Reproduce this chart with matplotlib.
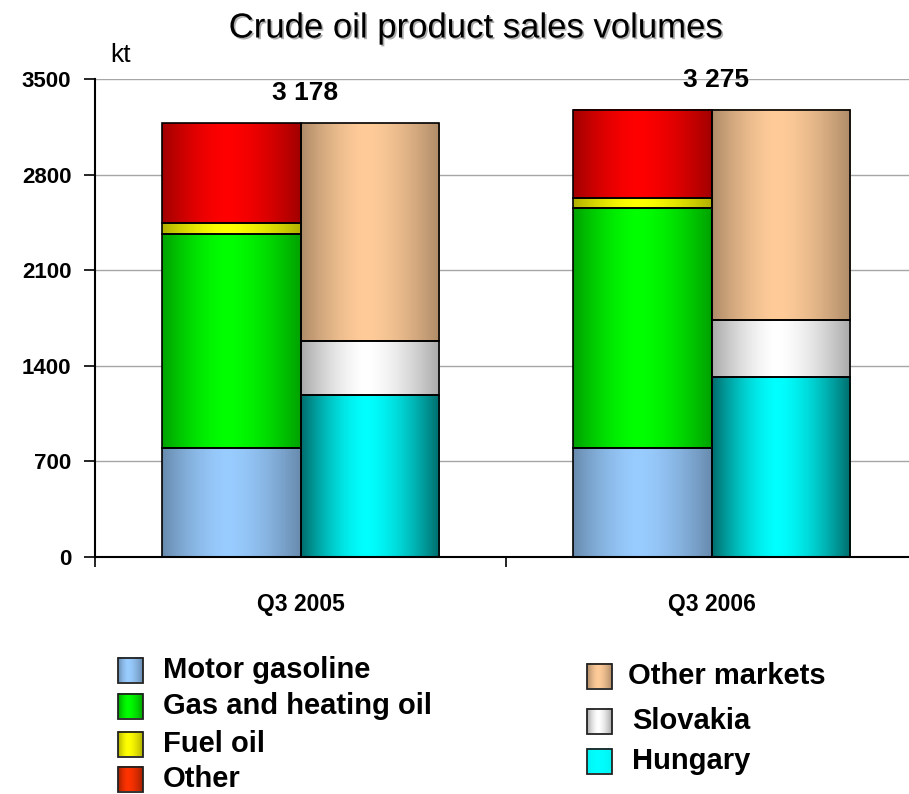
import matplotlib
matplotlib.use('Agg')
import matplotlib.pyplot as plt
import matplotlib.patheffects as pe
from matplotlib.colors import to_rgb
from matplotlib.patches import Rectangle
import numpy as np

plt.rcParams['font.family'] = ['Liberation Sans', 'DejaVu Sans']

categories = ['Q3 2005', 'Q3 2006']
totals = [3178, 3275]

# left bar: sales by product (kt)
motor_gasoline = [800, 800]
gas_heating_oil = [1567, 1752]
fuel_oil = [80, 74]
other_products = [731, 649]

# right bar: sales by market (kt)
hungary = [1186, 1318]
slovakia = [397, 415]
other_markets = [1595, 1542]

y_ticks = [0, 700, 1400, 2100, 2800, 3500]

# (name, values, base colour, edge darkening)
products = [
    ('Motor gasoline', motor_gasoline, '#99ccff', 0.68),
    ('Gas and heating oil', gas_heating_oil, '#00ff00', 0.63),
    ('Fuel oil', fuel_oil, '#ffff00', 0.69),
    ('Other', other_products, '#ff0000', 0.63),
]
markets = [
    ('Hungary', hungary, '#00ffff', 0.42),
    ('Slovakia', slovakia, '#ffffff', 0.66),
    ('Other markets', other_markets, '#ffcc99', 0.68),
]


def shade(color, lo, peak=0.47, n=256):
    # horizontal "cylinder" shading: dark edges, bright middle
    t = np.linspace(0, 1, n)
    d = np.where(t < peak, (peak - t) / peak, (t - peak) / (1 - peak))
    f = 1 - (1 - lo) * d ** 1.6
    rgb = np.array(to_rgb(color))
    return (f[:, None] * rgb)[None, :, :]


def shaded_bar(ax, x, bottom, height, width, color, lo):
    ax.imshow(shade(color, lo), extent=(x - width / 2, x + width / 2, bottom, bottom + height),
              aspect='auto', interpolation='bilinear', zorder=2)
    ax.bar(x, height, width, bottom=bottom, facecolor='none', edgecolor='black',
           linewidth=1.2, zorder=3)


fig = plt.figure(figsize=(9.09, 7.94), dpi=100)
ax = fig.add_axes([95 / 909, 1 - 557 / 794, 822 / 909, 478 / 794])

width = 0.336
for i in range(len(categories)):
    bottom = 0
    for name, vals, col, lo in products:
        shaded_bar(ax, i - width / 2, bottom, vals[i], width, col, lo)
        bottom += vals[i]
    bottom = 0
    for name, vals, col, lo in markets:
        shaded_bar(ax, i + width / 2, bottom, vals[i], width, col, lo)
        bottom += vals[i]
    ax.annotate(f'{totals[i]:,}'.replace(',', ' '), (i, totals[i]), xytext=(3, 13),
                textcoords='offset points', ha='center', va='bottom',
                fontsize=19, fontweight='bold')

ax.set_xlim(-0.5, 1.5)
ax.set_ylim(0, 3500)
ax.set_yticks(y_ticks, labels=[str(v) for v in y_ticks], fontsize=16, fontweight='bold')
ax.tick_params(axis='y', direction='out', length=8, width=1.2, pad=9)
ax.set_xticks([-0.5, 0.5, 1.5], labels=[])
ax.tick_params(axis='x', which='major', direction='out', length=7, width=1.2)
ax.set_xticks([0, 1], labels=categories, minor=True, fontsize=16.5, fontweight='bold')
ax.tick_params(axis='x', which='minor', length=0, pad=26)
ax.yaxis.grid(True, color='#a6a6a6', linewidth=1)
ax.set_axisbelow(True)
for s in ['top', 'right']:
    ax.spines[s].set_visible(False)
ax.spines['left'].set_linewidth(1.5)
ax.spines['bottom'].set_linewidth(1.5)

fig.text(476 / 909, 1 - 28 / 794, 'Crude oil product sales volumes', ha='center', va='center',
         fontsize=25, path_effects=[pe.withSimplePatchShadow(offset=(1.2, -1.2),
                                                            shadow_rgbFace='#777777', alpha=0.6)])
fig.text(121 / 909, 1 - 55 / 794, 'kt', ha='center', va='center', fontsize=19)

# legend drawn in pixel coordinates on an overlay axes
lax = fig.add_axes([0, 0, 1, 1])
lax.set_xlim(0, 909)
lax.set_ylim(794, 0)
lax.axis('off')

legend_left = [('Motor gasoline', '#99ccff', 0.68, 670),
               ('Gas and heating oil', '#00ff00', 0.63, 706),
               ('Fuel oil', '#ffff00', 0.69, 744),
               ('Other', '#ff3300', 0.63, 779)]
legend_right = [('Other markets', '#ffcc99', 0.68, 676, 628),
                ('Slovakia', '#ffffff', 0.66, 721, 632),
                ('Hungary', '#00ffff', 0.95, 761, 632)]

for name, col, lo, yc in legend_left:
    lax.imshow(shade(col, lo, peak=0.4), extent=(118, 143, yc + 12.5, yc - 12.5),
               aspect='auto', interpolation='bilinear', zorder=2)
    lax.add_patch(Rectangle((118, yc - 12.5), 25, 25, facecolor='none', edgecolor='#222222',
                            linewidth=1.3, zorder=3))
    lax.text(163, yc, name, ha='left', va='center', fontsize=21, fontweight='bold')

for name, col, lo, yc, tx in legend_right:
    lax.imshow(shade(col, lo, peak=0.45), extent=(587, 612, yc + 12.5, yc - 12.5),
               aspect='auto', interpolation='bilinear', zorder=2)
    lax.add_patch(Rectangle((587, yc - 12.5), 25, 25, facecolor='none', edgecolor='#222222',
                            linewidth=1.3, zorder=3))
    lax.text(tx, yc, name, ha='left', va='center', fontsize=21, fontweight='bold')

lax.set_xlim(0, 909)
lax.set_ylim(794, 0)

fig.savefig('out.png', dpi=100)
